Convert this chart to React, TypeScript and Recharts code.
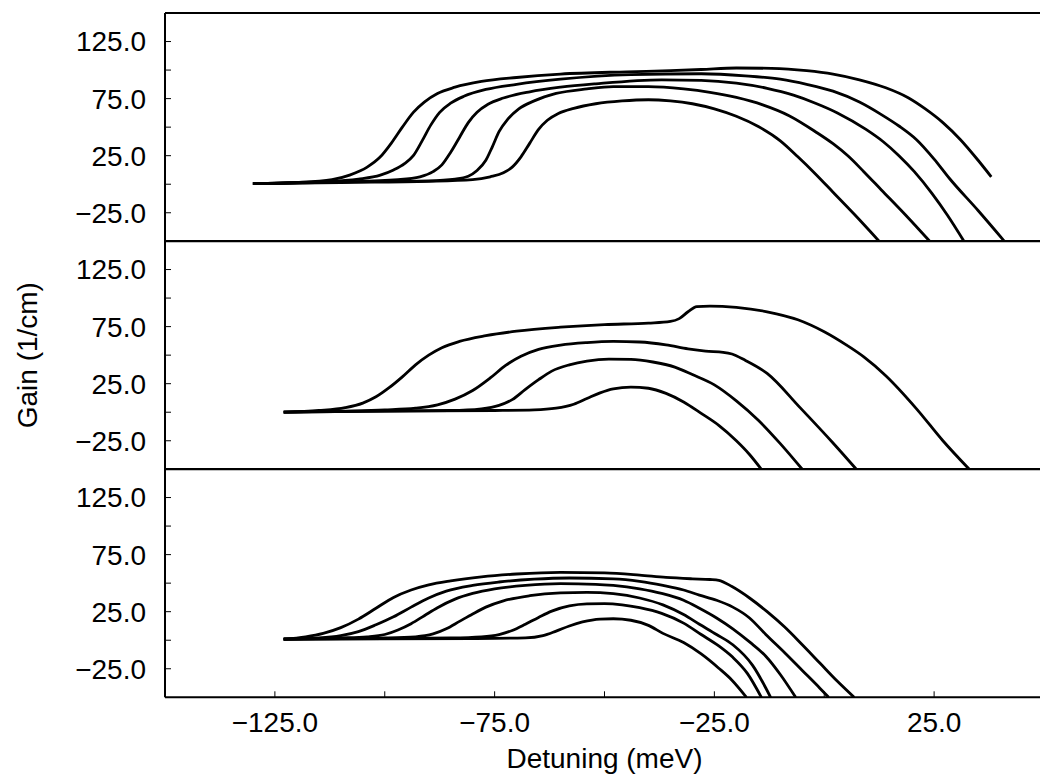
import React from "react";
import { LineChart, Line, XAxis, YAxis, Label } from "recharts";

type Pt = { x: number; y: number };
const pts = (a: number[][]): Pt[] => a.map(([x, y]) => ({ x, y }));

// upper panel
const top1 = pts([[-130, 0.5], [-120, 1.5], [-112, 4], [-108, 8], [-104, 15], [-101, 24], [-98.5, 36], [-96, 50], [-93.5, 63], [-91, 72], [-88, 79.5], [-84, 85], [-78, 90], [-70, 93.5], [-60, 96.5], [-45, 98.5], [-35, 99.5], [-28, 100.5], [-20, 101.8], [-12, 101.5], [-4, 99.5], [2, 96.5], [8, 91.5], [14, 84.5], [19, 76], [23, 66], [27, 54], [31, 39], [35, 21], [38, 6.5]]);
const top2 = pts([[-130, 0.5], [-115, 2], [-106, 4.5], [-101, 8], [-98, 12.5], [-95.5, 18], [-93.5, 25], [-91.5, 38], [-89.5, 52], [-87.5, 63], [-85, 71], [-82, 77], [-77, 83], [-70, 87.5], [-60, 92], [-44, 96], [-28, 96.8], [-18, 95], [-10, 92], [-4, 87.5], [2, 81.5], [8, 72], [13, 61], [17, 51], [21, 39], [25, 22], [28.5, 5], [35, -23], [41, -50]]);
const top3 = pts([[-130, 0.5], [-110, 2], [-97, 4], [-92, 6.5], [-89, 11], [-87, 17], [-85, 28], [-83, 41], [-81, 54], [-79, 63], [-76.5, 70], [-73, 75.5], [-67, 81], [-60, 85], [-52, 88], [-37, 91.5], [-28, 91], [-20, 88.5], [-13, 84], [-7, 78], [-2, 71], [3, 62.5], [9.5, 48], [13.5, 37], [17, 25], [20.5, 11], [24.5, -8], [28, -27], [31.8, -50]]);
const top4 = pts([[-130, 0.5], [-110, 2], [-90, 3], [-84, 4.5], [-81, 7], [-79, 12], [-77, 21], [-75.5, 33], [-74, 46], [-72, 57], [-69.5, 66], [-66, 73], [-61, 79.5], [-54, 83.5], [-48, 85.5], [-40, 85.5], [-32, 83.5], [-26, 80.5], [-20, 76], [-14, 69.5], [-8, 60], [-2, 46], [2, 35.5], [5.5, 24.5], [9, 11], [13, -5], [18.5, -27], [24, -50]]);
const top5 = pts([[-130, 0.5], [-110, 1.5], [-90, 2.5], [-80, 4], [-76, 6.5], [-73, 10], [-71, 15], [-69, 24], [-67, 36], [-65, 48], [-63, 56], [-60.5, 62], [-57, 66.5], [-52, 70.5], [-46, 73], [-40, 74], [-35, 73], [-30, 70.5], [-25, 66], [-20, 59.5], [-15, 50.5], [-10, 38], [-6, 24], [-2, 9], [2, -7], [7, -27], [12.5, -50]]);

// middle panel
const midA = pts([[-123, 0], [-115, 1.5], [-109, 4], [-105, 8], [-102, 13.5], [-99, 21.5], [-96, 31], [-93, 41.5], [-90, 50], [-87, 56.5], [-83, 62], [-77, 67], [-70, 71], [-60, 74.5], [-50, 76.8], [-40, 78], [-35, 79.5], [-33, 82], [-31, 88], [-29, 92.5], [-26, 93], [-20, 91.8], [-13, 88], [-6, 81], [0, 70.5], [5, 59], [9, 48.5], [14, 32], [21, 3], [27, -25], [33, -50]]);
const midB = pts([[-123, 0], [-110, 1], [-100, 2], [-93, 3.5], [-88, 6.5], [-84, 11.5], [-80, 19], [-76, 30], [-72.5, 41], [-69, 49], [-65, 55], [-60, 58.8], [-54, 61], [-48, 62], [-42, 61.5], [-36, 59], [-31, 55.5], [-27, 53.5], [-23, 52.5], [-21, 51], [-18, 45.5], [-13, 34], [-5.5, 4], [2, -27], [7.3, -50]]);
const midC = pts([[-123, 0], [-100, 1], [-85, 1.5], [-78, 3], [-74, 6], [-71, 11], [-68, 20], [-65, 28.5], [-62, 36], [-58, 41.5], [-54, 44.8], [-49, 46.5], [-44, 46.3], [-39, 44], [-34, 39.5], [-30, 33], [-25, 24], [-20, 10], [-15, -7], [-10, -27.5], [-5, -50]]);
const midD = pts([[-123, 0], [-100, 1], [-75, 1.5], [-66, 2], [-61, 3.5], [-57, 7], [-54, 12], [-51, 17], [-48, 20.5], [-44, 22], [-40, 21], [-36, 16.5], [-32, 9], [-28, -1], [-24, -11.5], [-20, -25], [-17, -37], [-14.3, -50]]);

// lower panel
const botA = pts([[-123, 1], [-118, 3], [-114, 6], [-110, 11], [-106, 18.5], [-102, 28], [-98, 37.5], [-94, 44], [-90, 48.5], [-85, 52], [-78, 55.5], [-70, 58], [-60, 59.5], [-50, 59], [-42, 57], [-36, 55], [-30, 53.8], [-26, 53.2], [-24, 52.5], [-21, 47], [-17, 37], [-13, 25], [-9, 11.5], [-5, -4], [-1, -20], [3, -36], [6.8, -50]]);
const botB = pts([[-123, 1], [-115, 2], [-110, 4], [-106, 7.5], [-102, 13.5], [-98, 20.5], [-94, 29], [-90, 37], [-86, 43], [-80, 48], [-74, 51], [-66, 53.5], [-58, 54.5], [-48, 53.7], [-42, 51.5], [-36.7, 48], [-32, 44], [-28.4, 39.5], [-24.5, 35], [-20.8, 29], [-17, 19.5], [-13.3, 5], [-9, -11], [-5, -26.5], [-1, -42], [1, -50]]);
const botC = pts([[-123, 1], [-110, 2], [-104, 3], [-100, 5], [-97, 9], [-94, 14.5], [-91, 21.5], [-88, 28.5], [-84, 36], [-80, 41], [-75, 45], [-68, 48], [-60, 49.5], [-52, 49], [-48, 48], [-42, 45], [-37, 41], [-32, 35], [-28.4, 28], [-24.5, 19.5], [-20.8, 10], [-17, -1.5], [-13.3, -14], [-10, -30], [-6.5, -50]]);
const botD = pts([[-123, 1], [-100, 2], [-93, 3], [-89, 5.5], [-86, 10], [-83, 16.5], [-80, 23], [-77, 29], [-73, 34.5], [-67, 39], [-60, 41.5], [-54, 42], [-48, 40.8], [-42, 37], [-36.7, 31], [-32, 22.5], [-28.4, 14], [-24.5, 5], [-20.8, -4], [-16.3, -22], [-12.2, -50]]);
const botE = pts([[-123, 1], [-100, 1.5], [-85, 2], [-78, 3], [-74, 5], [-71, 8.5], [-68, 14], [-65, 20], [-62, 25.5], [-58, 30], [-54, 31.8], [-50, 32], [-46, 31], [-42, 28.5], [-37, 23.5], [-32, 15], [-28, 5], [-24, -5], [-20.8, -15], [-17.5, -29], [-14.3, -50]]);
const botF = pts([[-123, 1], [-80, 1.5], [-68, 2], [-64, 4], [-61, 8], [-58, 12.5], [-55, 16], [-51, 18.5], [-48, 18.8], [-44, 17.5], [-40, 13], [-36.7, 6], [-32, -2], [-28, -12], [-24, -24.5], [-21, -35], [-17.7, -50]]);

const xTicks = [-125, -100, -75, -50, -25, 0, 25];
const yTicks = [-25, 0, 25, 50, 75, 100, 125];

const fmt = (v: number) => (v < 0 ? "\u2212" : "") + Math.abs(v).toFixed(1);
const fmtY = (v: number) => (Math.abs(v % 50) === 25 ? fmt(v) : "");
const fmtX = (v: number) => ((v + 125) % 50 === 0 ? fmt(v) : "");

const W = 1060;
const PH = 228.3;
const PAD = 10;
const FONT = 28;
const axisLine = { stroke: "#000", strokeWidth: 2 };
const tickLine = { stroke: "#000", strokeWidth: 1 };

type PanelProps = { series: Pt[][]; top: number; last?: boolean; yTitle?: boolean };

function Panel({ series, top, last, yTitle }: PanelProps) {
  const xh = last ? 72 : 1;
  const height = PAD + PH + xh + PAD;
  return (
    <div style={{ position: "absolute", left: 0, top: top - PAD }}>
      <LineChart width={W} height={height} margin={{ top: PAD - 1, right: 15, bottom: PAD, left: 0 }}>
        <XAxis
          dataKey="x"
          type="number"
          domain={[-150, 50]}
          allowDataOverflow
          ticks={xTicks}
          tickFormatter={fmtX}
          height={xh}
          tickSize={-6}
          tickMargin={21}
          axisLine={axisLine}
          tickLine={tickLine}
          tick={last ? { fontSize: FONT, fill: "#000" } : false}
        >
          {last && (
            <Label value="Detuning (meV)" position="insideBottom" offset={1} style={{ fontSize: FONT, fill: "#000" }} />
          )}
        </XAxis>
        <XAxis
          xAxisId="top"
          orientation="top"
          dataKey="x"
          type="number"
          domain={[-150, 50]}
          allowDataOverflow
          ticks={xTicks}
          height={1}
          tickSize={-6}
          axisLine={axisLine}
          tickLine={tickLine}
          tick={false}
        />
        <YAxis
          type="number"
          domain={[-50, 150]}
          allowDataOverflow
          ticks={yTicks}
          tickFormatter={fmtY}
          width={165}
          tickSize={-6}
          tickMargin={25}
          axisLine={axisLine}
          tickLine={tickLine}
          tick={{ fontSize: FONT, fill: "#000" }}
        >
          {yTitle && (
            <Label
              content={() => {
                const cx = 28;
                const cy = PAD + PH / 2;
                return (
                  <text x={cx} y={cy} transform={`rotate(-90 ${cx} ${cy})`} textAnchor="middle" dominantBaseline="central" fontSize={FONT} fill="#000">
                    Gain (1/cm)
                  </text>
                );
              }}
            />
          )}
        </YAxis>
        <YAxis
          yAxisId="right"
          orientation="right"
          type="number"
          domain={[-50, 150]}
          allowDataOverflow
          ticks={yTicks}
          width={1}
          tickSize={-6}
          axisLine={axisLine}
          tickLine={{ stroke: "#999", strokeWidth: 1 }}
          tick={false}
        />
        {series.map((s, i) => (
          <Line key={i} data={s} dataKey="y" type="monotone" stroke="#000" strokeWidth={2.8} dot={false} isAnimationActive={false} />
        ))}
      </LineChart>
    </div>
  );
}

export default function App() {
  return (
    <div
      style={{
        position: "absolute",
        left: 0,
        top: 0,
        width: 1040,
        height: 780,
        overflow: "hidden",
        background: "#fff",
        fontFamily: '"Liberation Sans", Arial, sans-serif',
      }}
    >
      <Panel series={[top1, top2, top3, top4, top5]} top={12.7} />
      <Panel series={[midA, midB, midC, midD]} top={241} yTitle />
      <Panel series={[botA, botB, botC, botD, botE, botF]} top={469.3} last />
    </div>
  );
}
